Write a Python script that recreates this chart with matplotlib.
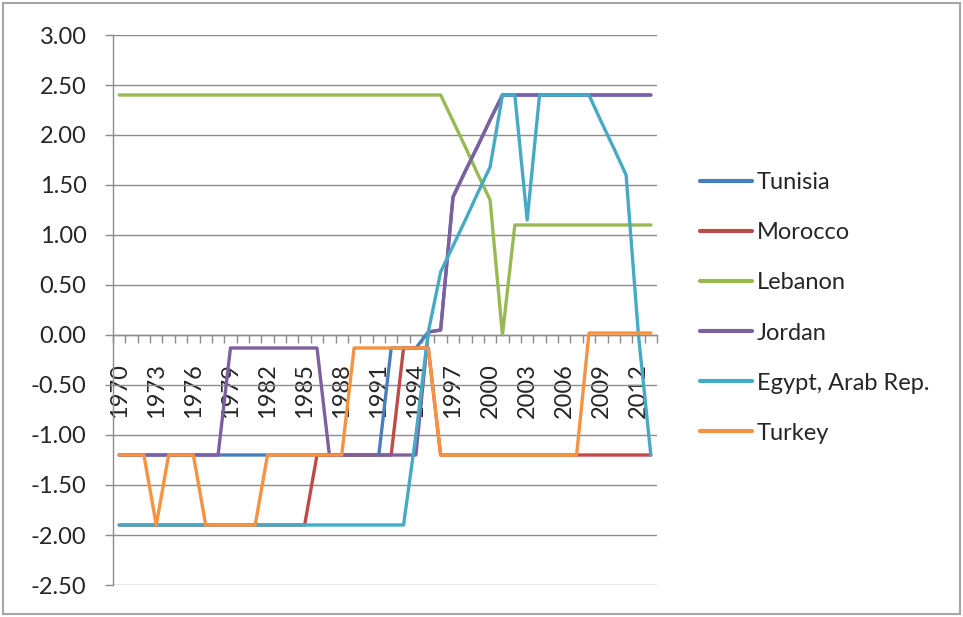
import matplotlib
matplotlib.use("Agg")
import matplotlib.pyplot as plt
from matplotlib.patches import Rectangle
from matplotlib.ticker import FixedLocator, FixedFormatter
import numpy as np

plt.rcParams['font.family'] = ['Lato', 'DejaVu Sans']

years = list(range(1970, 2014))

tunisia = [-1.20, -1.20, -1.20, -1.20, -1.20, -1.20, -1.20, -1.20, -1.20, -1.20,
           -1.20, -1.20, -1.20, -1.20, -1.20, -1.20, -1.20, -1.20, -1.20, -1.20,
           -1.20, -1.20, -0.13, -0.13, -0.13, 0.03, 0.05, 1.38, 1.64, 1.89,
           2.15, 2.40, 2.40, 2.40, 2.40, 2.40, 2.40, 2.40, 2.40, 2.40,
           2.40, 2.40, 2.40, 2.40]
morocco = [-1.90, -1.90, -1.90, -1.90, -1.90, -1.90, -1.90, -1.90, -1.90, -1.90,
           -1.90, -1.90, -1.90, -1.90, -1.90, -1.90, -1.20, -1.20, -1.20, -1.20,
           -1.20, -1.20, -1.20, -0.13, -0.13, -0.13, -1.20, -1.20, -1.20, -1.20,
           -1.20, -1.20, -1.20, -1.20, -1.20, -1.20, -1.20, -1.20, -1.20, -1.20,
           -1.20, -1.20, -1.20, -1.20]
lebanon = [2.40, 2.40, 2.40, 2.40, 2.40, 2.40, 2.40, 2.40, 2.40, 2.40,
           2.40, 2.40, 2.40, 2.40, 2.40, 2.40, 2.40, 2.40, 2.40, 2.40,
           2.40, 2.40, 2.40, 2.40, 2.40, 2.40, 2.40, 2.14, 1.88, 1.61,
           1.35, 0.00, 1.10, 1.10, 1.10, 1.10, 1.10, 1.10, 1.10, 1.10,
           1.10, 1.10, 1.10, 1.10]
jordan = [-1.20, -1.20, -1.20, -1.20, -1.20, -1.20, -1.20, -1.20, -1.20, -0.13,
          -0.13, -0.13, -0.13, -0.13, -0.13, -0.13, -0.13, -1.20, -1.20, -1.20,
          -1.20, -1.20, -1.20, -1.20, -1.20, 0.03, 0.05, 1.38, 1.64, 1.89,
          2.15, 2.40, 2.40, 2.40, 2.40, 2.40, 2.40, 2.40, 2.40, 2.40,
          2.40, 2.40, 2.40, 2.40]
egypt = [-1.90, -1.90, -1.90, -1.90, -1.90, -1.90, -1.90, -1.90, -1.90, -1.90,
         -1.90, -1.90, -1.90, -1.90, -1.90, -1.90, -1.90, -1.90, -1.90, -1.90,
         -1.90, -1.90, -1.90, -1.90, -1.00, 0.03, 0.63, 0.89, 1.15, 1.42,
         1.68, 2.40, 2.40, 1.15, 2.40, 2.40, 2.40, 2.40, 2.40, 2.13,
         1.87, 1.60, 0.00, -1.20]
turkey = [-1.20, -1.20, -1.20, -1.90, -1.20, -1.20, -1.20, -1.90, -1.90, -1.90,
          -1.90, -1.90, -1.20, -1.20, -1.20, -1.20, -1.20, -1.20, -1.20, -0.13,
          -0.13, -0.13, -0.13, -0.13, -0.13, -0.13, -1.20, -1.20, -1.20, -1.20,
          -1.20, -1.20, -1.20, -1.20, -1.20, -1.20, -1.20, -1.20, 0.02, 0.02,
          0.02, 0.02, 0.02, 0.02]

series_names = ["Tunisia", "Morocco", "Lebanon", "Jordan", "Egypt, Arab Rep.", "Turkey"]
series_values = [tunisia, morocco, lebanon, jordan, egypt, turkey]
series_colors = ["#4A7EBB", "#BE4B48", "#98B954", "#7D60A0", "#46AAC5", "#F69240"]

y_ticks = [-2.5, -2.0, -1.5, -1.0, -0.5, 0.0, 0.5, 1.0, 1.5, 2.0, 2.5, 3.0]
label_every = 3

W, H = 963, 617
fig = plt.figure(figsize=(W / 100, H / 100), dpi=100)
fig.patch.set_facecolor("white")
fig.patches.append(Rectangle((3 / W, 3 / H), 1 - 6 / W, 1 - 6 / H,
                             transform=fig.transFigure, fill=False,
                             edgecolor="#a6a6a6", linewidth=1.5))

ax = fig.add_axes([113 / W, 1 - 585 / H, 544 / W, 550 / H])
grid_col = "#8c8c8c"
text_col = "#262626"

x = np.arange(len(years))
for name, vals, col in zip(series_names, series_values, series_colors):
    ax.plot(x, vals, color=col, linewidth=2.4, label=name,
            solid_joinstyle="round", solid_capstyle="round", zorder=3)

ax.set_xlim(-0.5, len(years) - 0.5)
ax.set_ylim(y_ticks[0], y_ticks[-1])

# horizontal gridlines
ax.set_yticks(y_ticks)
ax.set_yticklabels([f"{v:.2f}" for v in y_ticks])
ax.yaxis.grid(True, color=grid_col, linewidth=1.0, zorder=1)
ax.set_axisbelow(True)

for s in ["top", "right"]:
    ax.spines[s].set_visible(False)
ax.spines["left"].set_color(grid_col)
ax.spines["left"].set_linewidth(1.0)
ax.spines["bottom"].set_position(("data", 0))
ax.spines["bottom"].set_color(grid_col)
ax.spines["bottom"].set_linewidth(1.0)

ax.tick_params(axis="y", direction="out", length=6, width=1.0, color=grid_col,
               labelsize=17, labelcolor=text_col, pad=13)

# category boundary ticks on the zero line, year labels every third category
ax.xaxis.set_major_locator(FixedLocator(np.arange(-0.5, len(years), 1.0)))
ax.xaxis.set_major_formatter(FixedFormatter([""] * (len(years) + 1)))
label_pos = x[::label_every]
ax.xaxis.set_minor_locator(FixedLocator(label_pos))
ax.xaxis.set_minor_formatter(FixedFormatter([str(years[i]) for i in label_pos]))
ax.tick_params(axis="x", which="major", direction="out", length=6, width=1.0,
               color=grid_col)
ax.tick_params(axis="x", which="minor", length=0, labelsize=17,
               labelcolor=text_col, pad=20, labelrotation=90)

leg = fig.legend(loc="center left", bbox_to_anchor=(700 / W, 1 - 308 / H),
                 frameon=False, fontsize=17, handlelength=2.2,
                 handletextpad=0.2, labelspacing=1.23, borderpad=0,
                 borderaxespad=0)
for t in leg.get_texts():
    t.set_color(text_col)
for h in leg.get_lines():
    h.set_linewidth(3.0)

fig.savefig("out.png", dpi=100, facecolor="white")
